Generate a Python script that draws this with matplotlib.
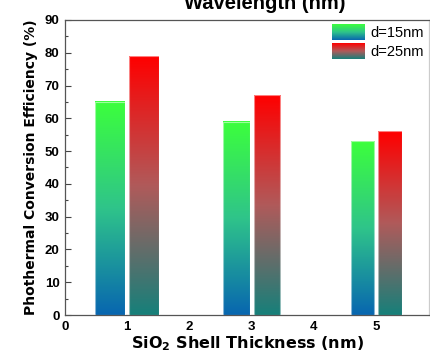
import numpy as np
import matplotlib
matplotlib.use("Agg")
import matplotlib.pyplot as plt
from matplotlib.patches import Rectangle
from matplotlib.colors import LinearSegmentedColormap

plt.rcParams['font.family'] = ['Liberation Sans', 'DejaVu Sans']

# data
thickness = [1, 3, 5]
eff_15 = [65, 59, 53]
eff_25 = [79, 67, 56]
labels = ['d=15nm', 'd=25nm']
xticks = [0, 1, 2, 3, 4, 5]
yticks = [0, 10, 20, 30, 40, 50, 60, 70, 80, 90]

# styling
widths = [0.48, 0.43, 0.38]
gap = 0.03
cm15 = LinearSegmentedColormap.from_list('g', ['#0866b0', '#2fc48a', '#3cff3c'])
cm25 = LinearSegmentedColormap.from_list('r', ['#16807a', '#b05a5a', '#ff0000'])

W, H = 431, 358
fig = plt.figure(figsize=(W/100, H/100), dpi=100)
ax = fig.add_axes([65/W, 1-315/H, (429-65)/W, (315-20)/H])

grad = np.linspace(0, 1, 256).reshape(-1, 1)

def gbar(x0, w, h, cmap):
    ax.imshow(grad, cmap=cmap, origin='lower', aspect='auto',
              extent=(x0, x0 + w, 0, h), zorder=2, interpolation='bilinear')
    ax.add_patch(Rectangle((x0, 0), w, h, fill=False, edgecolor='white',
                           alpha=0.5, lw=0.8, zorder=3))

for x, a, b, w in zip(thickness, eff_15, eff_25, widths):
    gbar(x - gap - w, w, a, cm15)
    gbar(x + gap, w, b, cm25)

ax.set_xlim(0, 5.85)
ax.set_ylim(0, 90)
ax.set_xticks(xticks)
ax.set_yticks(yticks)
ax.set_yticks(np.arange(5, 90, 10), minor=True)
ax.tick_params(axis='y', which='major', direction='in', length=4, width=0.8,
               labelsize=9.5, pad=4, color='#444444')
ax.tick_params(axis='y', which='minor', direction='in', length=2.5, width=0.8,
               color='#444444')
ax.tick_params(axis='x', which='major', length=0, labelsize=9.5, pad=4)
for lab in ax.get_xticklabels() + ax.get_yticklabels():
    lab.set_fontweight('bold')
for s in ax.spines.values():
    s.set_color('#555555')
    s.set_linewidth(0.9)
ax.spines['right'].set_color('#cccccc')

ax.set_xlabel('SiO$_\\mathbf{2}$ Shell Thickness (nm)', fontsize=11.5,
              fontweight='bold', labelpad=1, family=['DejaVu Sans'])
ax.set_ylabel('Phothermal Conversion Efficiency (%)', fontsize=10,
              fontweight='bold', labelpad=5, family=['DejaVu Sans'])

# title of the panel, partly cropped at the top edge as in the reference
fig.text(265/W, 1 - 9/H, 'Wavelength (nm)', ha='center', va='baseline',
         fontsize=14.5, fontweight='bold')

# legend drawn manually with gradient swatches (axes fraction coords)
def ax_frac(px, py):
    return ((px - 65) / (429 - 65), (315 - py) / (315 - 20))

swatches = [(cm15, 25, 40.5), (cm25, 44, 59.5)]
for (cmap, ytop, ybot), lab in zip(swatches, labels):
    x0, y1 = ax_frac(332, ytop)
    x1, y0 = ax_frac(365, ybot)
    ax.imshow(grad, cmap=cmap, origin='lower', aspect='auto',
              extent=(x0, x1, y0, y1), transform=ax.transAxes, zorder=4,
              interpolation='bilinear')
    tx, ty = ax_frac(370, (ytop + ybot) / 2)
    ax.text(tx, ty, lab, transform=ax.transAxes, va='center', ha='left',
            fontsize=10.5)

ax.set_xlim(0, 5.85)
ax.set_ylim(0, 90)

fig.savefig('out.png', dpi=100)
